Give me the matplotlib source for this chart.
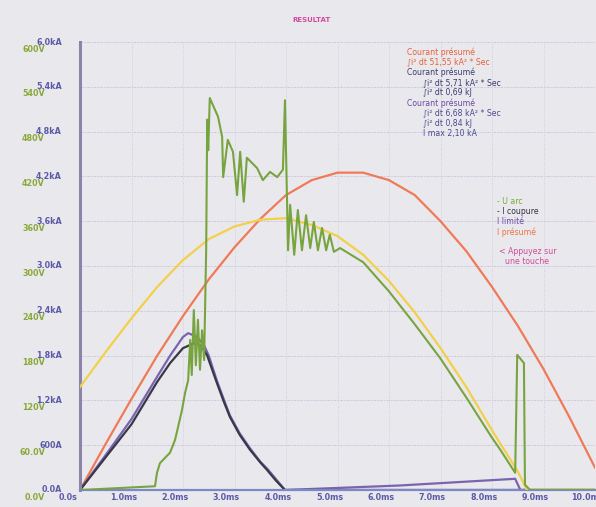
import matplotlib
matplotlib.use("Agg")
import matplotlib.pyplot as plt
import matplotlib.transforms as mtransforms

# ---------------- data ----------------
# prospective current (kA)
t_presume = [0, 0.5, 1, 1.5, 2, 2.5, 3, 3.5, 4, 4.5, 5, 5.5, 6, 6.5, 7, 7.5, 8, 8.5, 9, 9.5, 10]
i_presume = [0, 0.62, 1.22, 1.8, 2.33, 2.82, 3.25, 3.63, 3.95, 4.15, 4.25, 4.25, 4.15, 3.95,
             3.6, 3.2, 2.72, 2.2, 1.62, 0.98, 0.3]

# limited current (kA)
t_limite = [0, 0.5, 1, 1.5, 1.75, 2.0, 2.1, 2.25, 2.4, 2.5, 2.66, 2.8, 2.91, 3.1, 3.3, 3.5,
            3.63, 3.8, 3.98, 6.2, 8.45, 8.55, 10.0]
i_limite = [0, 0.47, 0.95, 1.52, 1.8, 2.05, 2.10, 2.06, 1.95, 1.80, 1.46, 1.2, 1.0, 0.76, 0.56,
            0.38, 0.29, 0.15, 0.0, 0.06, 0.15, 0.0, 0.0]

# cut current (kA)
t_coupure = [0, 0.5, 1, 1.5, 1.75, 2.0, 2.23, 2.35, 2.47, 2.66, 2.8, 2.91, 3.1, 3.3, 3.5,
             3.63, 3.8, 3.98, 10.0]
i_coupure = [0, 0.44, 0.88, 1.45, 1.7, 1.9, 1.97, 1.93, 1.80, 1.43, 1.17, 0.98, 0.74, 0.54,
             0.37, 0.27, 0.13, 0.0, 0.0]

# network voltage (V)
t_reseau = [0, 0.5, 1, 1.5, 2, 2.5, 3, 3.5, 4, 4.5, 5, 5.5, 6, 6.5, 7, 7.5, 8, 8.5, 8.68, 10.0]
u_reseau = [138, 185, 230, 272, 308, 336, 353, 362, 364, 355, 340, 315, 280, 238, 190, 138,
            80, 25, 0, 0]

# arc voltage (V)
t_arc = [0, 1.456, 1.495, 1.553, 1.748, 1.845, 1.903, 1.98, 2.04, 2.10, 2.14, 2.17, 2.21, 2.25,
         2.29, 2.33, 2.37, 2.41, 2.45, 2.47, 2.49, 2.52, 2.68, 2.76, 2.78, 2.87, 2.97, 3.05,
         3.11, 3.18, 3.24, 3.44, 3.55, 3.69, 3.83, 3.94, 3.98, 4.04, 4.08, 4.16, 4.23, 4.31,
         4.39, 4.47, 4.54, 4.62, 4.70, 4.78, 4.85, 4.93, 5.05, 5.5, 6.0, 6.5, 7.0, 7.5, 8.0,
         8.16, 8.45, 8.49, 8.62, 8.64, 8.74, 10.0]
u_arc = [0, 5, 23, 36, 50, 67, 84, 107, 130, 147, 201, 154, 241, 167,
         228, 161, 214, 174, 321, 496, 455, 525, 500, 473, 419, 469, 453, 395,
         453, 386, 445, 431, 415, 426, 419, 429, 522, 321, 382, 315, 375, 321,
         368, 324, 359, 321, 351, 321, 342, 319, 324, 305, 266, 222, 176, 124, 70,
         54, 23, 181, 170, 7, 0, 0]

x_ticks = [0, 1, 2, 3, 4, 5, 6, 7, 8, 9, 10]
x_labels = ['0.0s', '1.0ms', '2.0ms', '3.0ms', '4.0ms', '5.0ms', '6.0ms', '7.0ms', '8.0ms', '9.0ms', '10.0ms']
i_ticks = [0, 0.6, 1.2, 1.8, 2.4, 3.0, 3.6, 4.2, 4.8, 5.4, 6.0]
i_labels = ['0.0A', '600A', '1.2kA', '1.8kA', '2.4kA', '3.0kA', '3.6kA', '4.2kA', '4.8kA', '5.4kA', '6.0kA']
u_labels = ['0.0V', '60.0V', '120V', '180V', '240V', '300V', '360V', '420V', '480V', '540V', '600V']

info_lines = [
    ("Courant présumé", 0, '#e8603a'),
    ("∫i² dt 51,55 kA² * Sec", 0, '#e8603a'),
    ("Courant présumé", 0, '#3a3a70'),
    ("∫i² dt 5,71 kA² * Sec", 1, '#3a3a70'),
    ("∫i² dt 0,69 kJ", 1, '#3a3a70'),
    ("Courant présumé", 0, '#6a4aa0'),
    ("∫i² dt 6,68 kA² * Sec", 1, '#4a4a90'),
    ("∫i² dt 0,84 kJ", 1, '#4a4a90'),
    ("I max 2,10 kA", 1, '#4a4a90'),
]
legend_lines = [
    ("- U arc", '#7aa83a'),
    ("- I coupure", '#303048'),
    ("I limité", '#6a4aa8'),
    ("I présumé", '#f07040'),
]

# ---------------- figure ----------------
W, H = 596, 507
bg = '#e9e9ed'
fig = plt.figure(figsize=(W / 100, H / 100), dpi=100, facecolor=bg)
ax = fig.add_axes([80 / W, 17 / H, 515 / W, 448 / H], facecolor=bg)
ax.set_xlim(0, 10)
ax.set_ylim(0, 6.0)
ax2 = ax.twinx()
ax2.set_ylim(0, 600)

for a in (ax, ax2):
    for s in a.spines.values():
        s.set_visible(False)
    a.set_xticks([])
    a.set_yticks([])

# grid: dashed pink / cyan overlays
for yv in i_ticks[1:]:
    ax.plot([0, 10], [yv, yv], color='#e6b4d2', lw=0.6, linestyle=(0, (3, 5)), zorder=0)
    ax.plot([0, 10], [yv, yv], color='#b4dcea', lw=0.6, linestyle=(4, (3, 5)), zorder=0)
for xv in x_ticks[1:]:
    ax.plot([xv, xv], [0, 6], color='#e6bcd6', lw=0.5, linestyle=(0, (2, 5)), zorder=0)
    ax.plot([xv, xv], [0, 6], color='#bce0ec', lw=0.5, linestyle=(3.5, (2, 5)), zorder=0)

# axes lines
ax.plot([0, 0], [0, 6.0], color='#8a84a8', lw=2.2, zorder=5, clip_on=False)
ax.plot([0, 10], [0, 0], color='#7c88c8', lw=1.6, zorder=5, clip_on=False)

# curves
ax.plot(t_presume, i_presume, color='#f07a58', lw=1.6, zorder=3)
ax2.plot(t_reseau, u_reseau, color='#f2d04a', lw=1.6, zorder=3)
ax2.plot(t_arc, u_arc, color='#78a440', lw=1.5, zorder=4)
ax.plot(t_limite, i_limite, color='#7a64b0', lw=1.6, zorder=4)
ax.plot(t_coupure, i_coupure, color='#383848', lw=1.6, zorder=4)

# y tick labels
blend = mtransforms.blended_transform_factory(fig.transFigure, ax.transData)
for yv, il, ul in zip(i_ticks, i_labels, u_labels):
    ax.text(62 / W, yv, il, transform=blend, ha='right', va='center',
            fontsize=5.8, fontweight='bold', color='#5a5aa8')
    ax.annotate(ul, xy=(45 / W, yv), xycoords=blend, xytext=(0, -7),
                textcoords='offset pixels', ha='right', va='center',
                fontsize=5.8, fontweight='bold', color='#8aa83a')

# x tick labels
for xv, xl in zip(x_ticks, x_labels):
    ax.annotate(xl, xy=(xv, 0), xycoords='data', xytext=(-8 if xv > 0 else -12, -7),
                textcoords='offset pixels', ha='center', va='center',
                fontsize=5.8, fontweight='bold', color='#5a5aa8', annotation_clip=False)

# title
fig.text(312 / W, 1 - 20 / H, "RESULTAT", ha='center', va='center',
         fontsize=5, fontweight='bold', color='#d04aa0')

# info text
y0 = 52
for k, (txt, indent, col) in enumerate(info_lines):
    fig.text((407 + 16 * indent) / W, 1 - (y0 + k * 10.2) / H, txt, ha='left', va='center',
             fontsize=5.6, color=col)

# legend text
for k, (txt, col) in enumerate(legend_lines):
    fig.text(497 / W, 1 - (202 + k * 10) / H, txt, ha='left', va='center',
             fontsize=5.6, color=col)
fig.text(499 / W, 1 - 252 / H, "< Appuyez sur", ha='left', va='center', fontsize=5.6, color='#d04a9a')
fig.text(505 / W, 1 - 262 / H, "une touche", ha='left', va='center', fontsize=5.6, color='#d04a9a')

fig.savefig("out.png", dpi=100, facecolor=bg)
